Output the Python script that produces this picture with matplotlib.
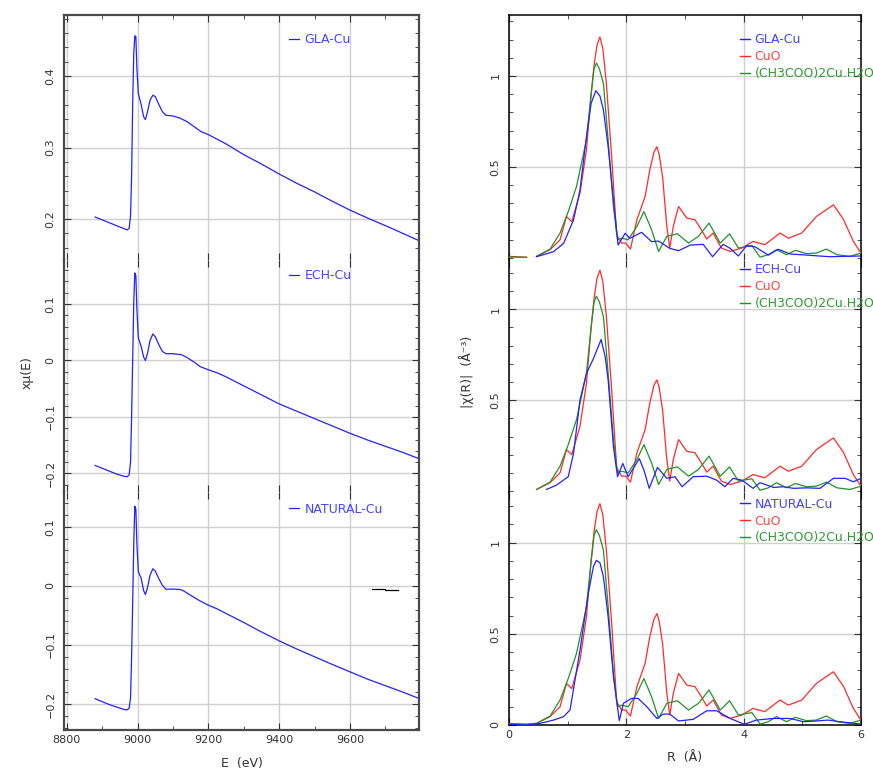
import numpy as np
import matplotlib
matplotlib.use("Agg")
import matplotlib.pyplot as plt
from matplotlib.ticker import MultipleLocator, FixedLocator, FuncFormatter

# --- XANES: normalised absorption vs energy (eV) ---
gla_E = [8880, 8900, 8920, 8940, 8960, 8970, 8976, 8980, 8983, 8986, 8989, 8992, 8995,
         8998, 9002, 9010, 9017, 9022, 9028, 9035, 9043, 9050, 9060, 9070, 9080, 9100,
         9120, 9140, 9160, 9180, 9200, 9250, 9300, 9350, 9400, 9450, 9500, 9550, 9600,
         9650, 9700, 9750, 9795]
gla_mu = [0.203, 0.199, 0.195, 0.191, 0.187, 0.185, 0.187, 0.205, 0.26, 0.36, 0.43, 0.456,
          0.455, 0.41, 0.375, 0.36, 0.343, 0.339, 0.35, 0.366, 0.373, 0.371, 0.36, 0.35,
          0.345, 0.344, 0.341, 0.336, 0.329, 0.322, 0.318, 0.305, 0.29, 0.277, 0.263,
          0.25, 0.238, 0.225, 0.2126, 0.2015, 0.191, 0.18, 0.17]

ech_E = [8880, 8900, 8920, 8940, 8960, 8970, 8976, 8980, 8983, 8986, 8989, 8992, 8995,
         8998, 9002, 9010, 9017, 9022, 9028, 9035, 9043, 9050, 9060, 9070, 9080, 9100,
         9125, 9140, 9160, 9177, 9200, 9225, 9250, 9300, 9350, 9400, 9450, 9500, 9550,
         9600, 9650, 9700, 9750, 9795]
ech_mu = [-0.186, -0.191, -0.196, -0.201, -0.205, -0.206, -0.203, -0.18, -0.10, 0.0, 0.10,
          0.155, 0.15, 0.09, 0.04, 0.025, 0.006, 0.0, 0.013, 0.035, 0.047, 0.042, 0.028,
          0.016, 0.012, 0.012, 0.010, 0.005, -0.003, -0.011, -0.0165, -0.022, -0.029,
          -0.045, -0.061, -0.077, -0.090, -0.103, -0.116, -0.129, -0.141, -0.152, -0.163,
          -0.174]

nat_E = [8880, 8900, 8920, 8940, 8960, 8970, 8976, 8980, 8983, 8986, 8989, 8992, 8995,
         8998, 9002, 9010, 9017, 9022, 9028, 9035, 9043, 9050, 9060, 9070, 9080, 9100,
         9120, 9130, 9150, 9175, 9200, 9225, 9250, 9300, 9350, 9400, 9450, 9500, 9550,
         9600, 9650, 9700, 9750, 9795]
nat_mu = [-0.191, -0.196, -0.201, -0.205, -0.209, -0.210, -0.207, -0.19, -0.12, -0.03,
          0.07, 0.135, 0.13, 0.07, 0.024, 0.013, -0.008, -0.0146, -0.003, 0.018, 0.029,
          0.025, 0.012, 0.001, -0.0056, -0.0055, -0.006, -0.0085, -0.016, -0.025, -0.0327,
          -0.039, -0.0467, -0.062, -0.078, -0.093, -0.107, -0.120, -0.133, -0.1455,
          -0.158, -0.169, -0.180, -0.1906]

# short black segment left on the NATURAL-Cu panel
stray_E = [9662, 9700, 9700, 9735]
stray_mu = [-0.0055, -0.0055, -0.0075, -0.0075]

# --- Fourier transforms |chi(R)| ---
cuo_R = [0.0, 0.30, 0.47, 0.70, 0.87, 0.98, 1.07, 1.21, 1.32, 1.40, 1.45, 1.50, 1.55, 1.60,
         1.66, 1.75, 1.835, 1.92, 1.99, 2.07, 2.18, 2.32, 2.40, 2.47, 2.52, 2.56, 2.62,
         2.69, 2.74, 2.80, 2.89, 3.03, 3.17, 3.28, 3.37, 3.48, 3.62, 3.77, 3.97, 4.16,
         4.36, 4.62, 4.76, 4.99, 5.24, 5.53, 5.70, 5.87, 6.0]
cuo_chi = [0.009, 0.004, 0.009, 0.046, 0.10, 0.228, 0.20, 0.356, 0.593, 0.90, 1.06, 1.17,
           1.214, 1.15, 0.958, 0.557, 0.128, 0.082, 0.082, 0.049, 0.21, 0.338, 0.484,
           0.58, 0.611, 0.57, 0.44, 0.173, 0.055, 0.173, 0.283, 0.219, 0.21, 0.155, 0.104,
           0.137, 0.055, 0.036, 0.055, 0.091, 0.073, 0.137, 0.109, 0.137, 0.228, 0.292,
           0.213, 0.091, 0.027]

acet_R = [0.0, 0.30, 0.47, 0.70, 0.87, 1.01, 1.15, 1.32, 1.40, 1.45, 1.49, 1.54, 1.61, 1.69,
          1.78, 1.85, 1.92, 2.03, 2.18, 2.30, 2.43, 2.55, 2.69, 2.87, 3.06, 3.23, 3.41,
          3.60, 3.76, 3.91, 4.14, 4.28, 4.42, 4.56, 4.73, 4.88, 5.07, 5.24, 5.41, 5.59,
          5.81, 6.0]
acet_chi = [0.005, 0.004, 0.009, 0.049, 0.137, 0.255, 0.392, 0.648, 0.90, 1.04, 1.071,
            1.04, 0.958, 0.648, 0.283, 0.10, 0.109, 0.10, 0.173, 0.255, 0.155, 0.036,
            0.119, 0.133, 0.082, 0.119, 0.192, 0.082, 0.133, 0.055, 0.068, 0.005, 0.018,
            0.046, 0.018, 0.042, 0.024, 0.027, 0.049, 0.018, 0.009, 0.027]

gla_R = [0.47, 0.76, 0.93, 1.10, 1.21, 1.32, 1.40, 1.48, 1.55, 1.61, 1.69, 1.78, 1.86, 1.98,
         2.06, 2.26, 2.43, 2.55, 2.74, 2.89, 3.09, 3.31, 3.47, 3.65, 3.77, 3.91, 4.05,
         4.19, 4.42, 4.59, 4.79, 5.07, 5.47, 6.0]
gla_chi = [0.007, 0.035, 0.08, 0.209, 0.374, 0.667, 0.85, 0.919, 0.89, 0.813, 0.612, 0.319,
           0.071, 0.136, 0.108, 0.141, 0.09, 0.093, 0.053, 0.04, 0.071, 0.075, 0.007,
           0.075, 0.053, 0.011, 0.068, 0.062, 0.016, 0.048, 0.022, 0.016, 0.007, 0.011]

ech_R = [0.64, 0.81, 1.01, 1.10, 1.21, 1.32, 1.44, 1.57, 1.64, 1.69, 1.78, 1.85, 1.94, 2.03,
         2.12, 2.22, 2.30, 2.39, 2.53, 2.69, 2.83, 2.95, 3.14, 3.37, 3.54, 3.68, 3.82,
         3.97, 4.16, 4.28, 4.51, 4.68, 4.85, 5.07, 5.30, 5.53, 5.73, 5.87, 6.0]
ech_chi = [0.009, 0.033, 0.079, 0.207, 0.50, 0.646, 0.729, 0.833, 0.738, 0.61, 0.244,
           0.079, 0.152, 0.079, 0.125, 0.179, 0.115, 0.015, 0.13, 0.07, 0.079, 0.024,
           0.079, 0.082, 0.06, 0.024, 0.07, 0.06, 0.015, 0.046, 0.02, 0.024, 0.015, 0.018,
           0.015, 0.07, 0.07, 0.051, 0.07]

nat_R = [0.0, 0.30, 0.53, 0.76, 0.93, 1.04, 1.125, 1.21, 1.35, 1.44, 1.49, 1.55, 1.61, 1.69,
         1.78, 1.88, 1.95, 2.09, 2.20, 2.35, 2.52, 2.63, 2.74, 2.89, 3.14, 3.37, 3.54,
         3.77, 4.01, 4.22, 4.51, 4.79, 5.02, 5.24, 5.44, 5.64, 6.0]
nat_chi = [0.004, 0.0, 0.009, 0.027, 0.046, 0.082, 0.246, 0.41, 0.72, 0.87, 0.903, 0.89,
           0.812, 0.593, 0.265, 0.024, 0.119, 0.146, 0.146, 0.10, 0.036, 0.06, 0.06,
           0.022, 0.031, 0.078, 0.078, 0.036, 0.004, 0.027, 0.036, 0.036, 0.018, 0.022,
           0.027, 0.018, 0.005]

samples = ["GLA-Cu", "ECH-Cu", "NATURAL-Cu"]
refs = ["CuO", "(CH3COO)2Cu.H2O"]

BLUE = "#2222ff"
RED = "#ff2a2a"
GREEN = "#22922a"
GRID = "#cfcfcf"
TXT = "#333333"

W, H = 873, 773
fig = plt.figure(figsize=(W / 100, H / 100), dpi=100)


def px_axes(x0, y0, x1, y1):
    return fig.add_axes([x0 / W, 1 - y1 / H, (x1 - x0) / W, (y1 - y0) / H])


def style(ax, first, last, spine_color, spine_w):
    ax.tick_params(which="both", direction="in", top=True, right=True,
                   colors=TXT, labelsize=8)
    ax.tick_params(which="major", length=5, width=0.8)
    ax.tick_params(which="minor", length=3, width=0.6)
    ax.tick_params(axis="y", labelrotation=90, pad=6)
    for sp in ax.spines.values():
        sp.set_color(spine_color)
        sp.set_linewidth(spine_w)
    # stacked panels: no rule and no minor ticks on the shared edges
    if not first:
        ax.spines["top"].set_visible(False)
        ax.tick_params(axis="x", which="minor", top=False)
    if not last:
        ax.spines["bottom"].set_visible(False)
        ax.tick_params(axis="x", which="minor", bottom=False)
        ax.tick_params(labelbottom=False)
    ax.grid(True, which="major", color=GRID, linewidth=1)
    ax.set_axisbelow(True)
    for lab in ax.get_yticklabels():
        lab.set_va("center")


# ---- left column: XANES ----
left_rows = [(15, 260), (260, 492), (492, 730)]
left_ylims = [(0.143, 0.485), (-0.233, 0.178), (-0.244, 0.159)]
left_data = [(gla_E, gla_mu), (ech_E, ech_mu), (nat_E, nat_mu)]
left_leg_y = [0.925, 0.96, 0.955]

left_axes = []
for i, ((y0, y1), ylim, (e, mu), name) in enumerate(zip(left_rows, left_ylims,
                                                         left_data, samples)):
    ax = px_axes(64, y0, 419, y1)
    ax.plot(e, mu, color=BLUE, lw=0.9, label=name)
    ax.set_xlim(8792, 9795)
    ax.set_ylim(*ylim)
    ax.xaxis.set_major_locator(MultipleLocator(200))
    ax.xaxis.set_minor_locator(MultipleLocator(100))
    ax.yaxis.set_major_locator(MultipleLocator(0.1))
    ax.yaxis.set_minor_locator(MultipleLocator(0.02))
    style(ax, i == 0, i == 2, "#4a4a4a", 1.6)
    ax.yaxis.set_major_formatter(FuncFormatter(
        lambda v, p: "0" if abs(v) < 1e-9 else f"{v:g}".replace("-", "\u2212")))
    ax.legend(loc="upper left", bbox_to_anchor=(0.635, left_leg_y[i]), frameon=False,
              handlelength=0.8, handletextpad=0.4, borderpad=0, borderaxespad=0,
              fontsize=9, labelcolor="#4545ff")
    left_axes.append(ax)

left_axes[2].plot(stray_E, stray_mu, color="black", lw=0.9)
left_axes[2].set_xlabel("E  (eV)", fontsize=9, color=TXT, labelpad=9)
fig.text(27 / W, 1 - 373 / H, "x\u03bc(E)", rotation=90, ha="center", va="center",
         fontsize=9, color=TXT)

# ---- right column: |chi(R)| ----
right_rows = [(15, 260), (260, 492), (492, 725)]
right_ylims = [(-0.011, 1.335), (-0.005, 1.27), (0.0, 1.278)]
right_data = [(gla_R, gla_chi), (ech_R, ech_chi), (nat_R, nat_chi)]
right_leg_y = [0.925, 0.985, 0.975]
cuo_R_a = np.array(cuo_R)
acet_R_a = np.array(acet_R)
cuo_a = np.array(cuo_chi)
acet_a = np.array(acet_chi)

for i, ((y0, y1), ylim, (r, chi), name) in enumerate(zip(right_rows, right_ylims,
                                                          right_data, samples)):
    ax = px_axes(509, y0, 861, y1)
    ax.plot(r, chi, color=BLUE, lw=0.9, label=name, zorder=4)
    if i == 0:
        # reference traces split into two pieces
        for mask in (cuo_R_a <= 0.30, cuo_R_a >= 0.47):
            ax.plot(cuo_R_a[mask], cuo_a[mask], color=RED, lw=0.9, zorder=3)
        for mask in (acet_R_a <= 0.30, acet_R_a >= 0.47):
            ax.plot(acet_R_a[mask], acet_a[mask], color=GREEN, lw=0.9, zorder=3)
    elif i == 1:
        m1 = cuo_R_a >= 0.47
        m2 = acet_R_a >= 0.47
        ax.plot(cuo_R_a[m1], cuo_a[m1], color=RED, lw=0.9, zorder=3)
        ax.plot(acet_R_a[m2], acet_a[m2], color=GREEN, lw=0.9, zorder=3)
    else:
        ax.plot(cuo_R_a, cuo_a, color=RED, lw=0.9, zorder=3)
        ax.plot(acet_R_a, acet_a, color=GREEN, lw=0.9, zorder=3)
    ax.set_xlim(0, 6)
    ax.set_ylim(*ylim)
    ax.xaxis.set_major_locator(MultipleLocator(2))
    ax.xaxis.set_minor_locator(MultipleLocator(1))
    ax.yaxis.set_major_locator(FixedLocator([0, 0.5, 1] if i == 2 else [0.5, 1]))
    ax.yaxis.set_minor_locator(MultipleLocator(0.1))
    style(ax, i == 0, i == 2, "black", 1.1)
    ax.yaxis.set_major_formatter(FuncFormatter(lambda v, p: f"{v:g}"))

    h = [plt.Line2D([], [], color=c, lw=1) for c in (BLUE, RED, GREEN)]
    leg = ax.legend(h, [name] + refs, loc="upper left",
                    bbox_to_anchor=(0.655, right_leg_y[i]), frameon=False,
                    handlelength=0.8, handletextpad=0.4, labelspacing=0.3, borderpad=0,
                    borderaxespad=0, fontsize=9)
    for t, c in zip(leg.get_texts(), ("#4545ff", "#ff4545", "#2f9a34")):
        t.set_color(c)
    if i == 2:
        ax.set_xlabel("R  (\u00c5)", fontsize=9, color=TXT, labelpad=8)

fig.text(467 / W, 1 - 372 / H, "|\u03c7(R)|  (\u00c5\u207b\u00b3)", rotation=90,
         ha="center", va="center", fontsize=9, color=TXT)

fig.savefig("out.png", dpi=100)
